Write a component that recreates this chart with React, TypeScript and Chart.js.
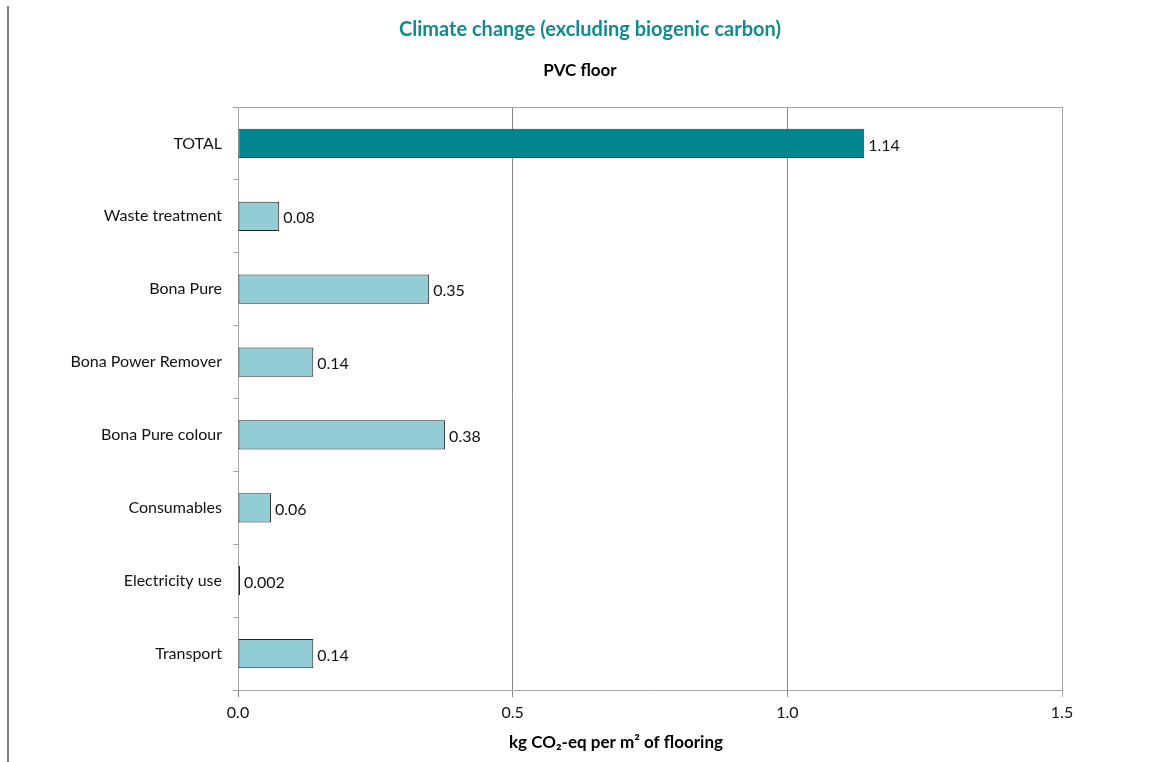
import React, { useEffect, useRef } from "react";
import { Chart, registerables } from "chart.js";

Chart.register(...registerables);

const categories = [
  "TOTAL",
  "Waste treatment",
  "Bona Pure",
  "Bona Power Remover",
  "Bona Pure colour",
  "Consumables",
  "Electricity use",
  "Transport",
];
const values = [1.14, 0.075, 0.348, 0.137, 0.377, 0.06, 0.002, 0.137];
const valueLabels = ["1.14", "0.08", "0.35", "0.14", "0.38", "0.06", "0.002", "0.14"];
const barColors = ["#00868F", "#92CDD6", "#92CDD6", "#92CDD6", "#92CDD6", "#92CDD6", "#92CDD6", "#92CDD6"];
const xTicks = [0, 0.5, 1.0, 1.5];

const titleText = "Climate change (excluding biogenic carbon)";
const subtitleText = "PVC floor";
const xAxisTitle = "kg CO\u2082-eq per m\u00B2 of flooring";

const FONT = "Lato, 'Open Sans', sans-serif";

const overlayPlugin = {
  id: "overlay",
  afterDraw(chart: any) {
    const ctx = chart.ctx;
    const { left, right, top } = chart.chartArea;
    ctx.save();
    // plot area top border
    ctx.strokeStyle = "#a6a6a6";
    ctx.lineWidth = 1;
    ctx.beginPath();
    ctx.moveTo(left, top + 0.5);
    ctx.lineTo(right, top + 0.5);
    ctx.stroke();
    // titles
    ctx.textAlign = "center";
    ctx.textBaseline = "middle";
    ctx.fillStyle = "#0F8C93";
    ctx.font = `bold 20px ${FONT}`;
    ctx.fillText(titleText, 590, 30);
    ctx.fillStyle = "#000";
    ctx.font = `bold 17px ${FONT}`;
    ctx.fillText(subtitleText, 580, 71);
    ctx.font = `bold 17px ${FONT}`;
    ctx.fillText(xAxisTitle, 616, 743);
    ctx.restore();
  },
  afterDatasetsDraw(chart: any) {
    const ctx = chart.ctx;
    const meta = chart.getDatasetMeta(0);
    ctx.save();
    ctx.fillStyle = "#111";
    ctx.font = `16px ${FONT}`;
    ctx.textAlign = "left";
    ctx.textBaseline = "middle";
    meta.data.forEach((bar: any, i: number) => {
      ctx.fillText(valueLabels[i], bar.x + 4, bar.y + 2);
    });
    ctx.restore();
  },
};

export default function App() {
  const ref = useRef<HTMLCanvasElement>(null);
  useEffect(() => {
    if (!ref.current) return;
    const chart = new Chart(ref.current, {
      type: "bar",
      data: {
        labels: categories,
        datasets: [
          {
            data: values,
            backgroundColor: barColors,
            borderColor: ["#1F3F40", "#222", "#222", "#222", "#222", "#222", "#222", "#222"],
            borderWidth: 1,
            borderSkipped: false,
            barPercentage: 0.4,
            categoryPercentage: 1,
            minBarLength: 2,
          },
        ],
      },
      options: {
        indexAxis: "y",
        animation: false,
        responsive: false,
        maintainAspectRatio: false,
        layout: { padding: { top: 107, right: 104, bottom: 0, left: 0 } },
        plugins: {
          legend: { display: false },
          tooltip: { enabled: false },
          title: { display: false },
        },
        scales: {
          x: {
            min: 0,
            max: 1.5,
            afterBuildTicks(scale: any) {
              scale.ticks = xTicks.map((v) => ({ value: v }));
            },
            afterFit(scale: any) {
              scale.height = 72;
            },
            ticks: {
              color: "#111",
              font: { family: FONT, size: 16 },
              padding: 6,
              maxRotation: 0,
              callback: (v: any) => Number(v).toFixed(1),
            },
            grid: {
              color: (c: any) => (c.tick && c.tick.value === 1.5 ? "#a6a6a6" : "#888888"),
              lineWidth: 1,
              tickLength: 7,
              drawTicks: true,
            },
            border: { color: "#a6a6a6", width: 1 },
          },
          y: {
            afterFit(scale: any) {
              scale.width = 238;
            },
            ticks: {
              color: "#111",
              font: { family: FONT, size: 16 },
              padding: 11,
            },
            grid: {
              offset: true,
              drawOnChartArea: false,
              drawTicks: true,
              tickLength: 5,
              color: "#a6a6a6",
            },
            border: { color: "#a6a6a6", width: 1 },
          },
        },
      },
      plugins: [overlayPlugin],
    } as any);
    return () => chart.destroy();
  }, []);
  return (
    <div style={{ position: "fixed", left: 0, top: 0, width: 1166, height: 762, background: "#fff" }}>
      <div
        style={{
          position: "absolute",
          left: 7,
          top: 6,
          width: 2,
          height: 756,
          background: "#7f7f7f",
        }}
      />
      <canvas ref={ref} width={1166} height={762} style={{ display: "block" }} />
    </div>
  );
}
